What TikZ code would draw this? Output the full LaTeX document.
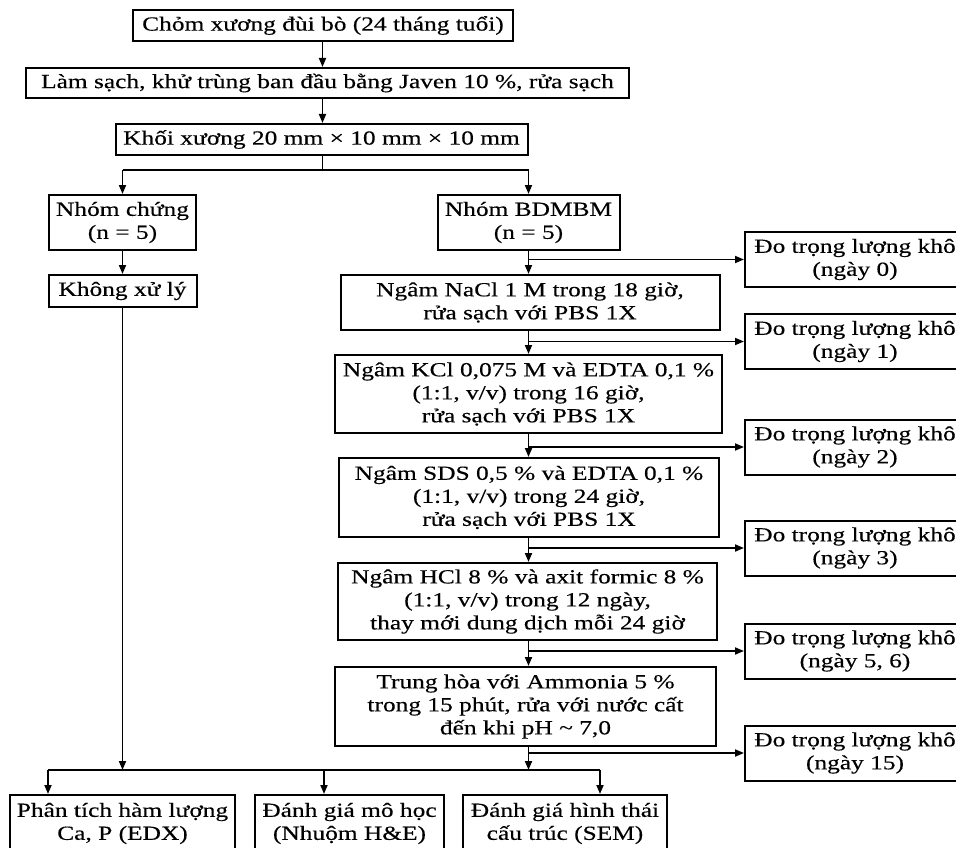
\documentclass[tikz,border=0pt]{standalone}
\usepackage{fontspec}
\setmainfont{Liberation Serif}[FakeStretch=1.27,FakeBold=0.35]
\usetikzlibrary{arrows.meta}
\begin{document}
\begin{tikzpicture}[x=1pt,y=-1pt,
  box/.style={draw, line width=2pt, inner sep=0pt, align=center,
    font=\fontsize{20}{23}\selectfont},
  conn/.style={line width=1.8pt},
  arr/.style={conn, -{Triangle[length=9pt,width=7pt]}}]
\useasboundingbox (0,0) rectangle (956,848);
% top column
\node[box, minimum width=380pt, minimum height=31pt] (n1) at (323,25.5) {Chỏm xương đùi bò (24 tháng tuổi)};
\node[box, minimum width=603pt, minimum height=30pt] (n2) at (327.5,83) {Làm sạch, khử trùng ban đầu bằng Javen 10 \%, rửa sạch};
\node[box, minimum width=412pt, minimum height=31pt] (n3) at (321.5,139.5) {Khối xương 20 mm × 10 mm × 10 mm};
% groups
\node[box, minimum width=147pt, minimum height=55pt] (chung) at (122.5,222.5) {Nhóm chứng\\(n = 5)};
\node[box, minimum width=182pt, minimum height=55pt] (bdmbm) at (528.5,222.5) {Nhóm BDMBM\\(n = 5)};
\node[box, minimum width=148pt, minimum height=32pt] (khong) at (122.5,291) {Không xử lý};
% middle column
\node[box, minimum width=379pt, minimum height=55pt] (nacl) at (530,302.5) {Ngâm NaCl 1 M trong 18 giờ,\\rửa sạch với PBS 1X};
\node[box, minimum width=387pt, minimum height=78pt] (kcl) at (528.5,394) {Ngâm KCl 0,075 M và EDTA 0,1 \%\\(1:1, v/v) trong 16 giờ,\\rửa sạch với PBS 1X};
\node[box, minimum width=380pt, minimum height=79pt] (sds) at (529,497.5) {Ngâm SDS 0,5 \% và EDTA 0,1 \%\\(1:1, v/v) trong 24 giờ,\\rửa sạch với PBS 1X};
\node[box, minimum width=379pt, minimum height=77pt] (hcl) at (527.5,601.5) {Ngâm HCl 8 \% và axit formic 8 \%\\(1:1, v/v) trong 12 ngày,\\thay mới dung dịch mỗi 24 giờ};
\node[box, minimum width=381pt, minimum height=79pt] (th) at (525.5,706.5) {Trung hòa với Ammonia 5 \%\\trong 15 phút, rửa với nước cất\\đến khi pH \textasciitilde{} 7,0};
% right column
\node[box, minimum width=220pt, minimum height=55pt] (d0) at (855,259.5) {Đo trọng lượng khô\\(ngày 0)};
\node[box, minimum width=220pt, minimum height=55pt] (d1) at (855,341.5) {Đo trọng lượng khô\\(ngày 1)};
\node[box, minimum width=220pt, minimum height=55pt] (d2) at (855,447) {Đo trọng lượng khô\\(ngày 2)};
\node[box, minimum width=220pt, minimum height=55pt] (d3) at (855,548) {Đo trọng lượng khô\\(ngày 3)};
\node[box, minimum width=220pt, minimum height=55pt] (d56) at (855,651) {Đo trọng lượng khô\\(ngày 5, 6)};
\node[box, minimum width=220pt, minimum height=55pt] (d15) at (855,753) {Đo trọng lượng khô\\(ngày 15)};
% bottom row
\node[box, minimum width=225pt, minimum height=57pt] (edx) at (122.5,823.5) {Phân tích hàm lượng\\Ca, P (EDX)};
\node[box, minimum width=189pt, minimum height=57pt] (he) at (349.5,823.5) {Đánh giá mô học\\(Nhuộm H\&E)};
\node[box, minimum width=204pt, minimum height=57pt] (sem) at (565,823.5) {Đánh giá hình thái\\cấu trúc (SEM)};
% connectors top
\coordinate (s1) at (322.5,170);
\draw[arr] (n1.south -| s1) -- (s1 |- n2.north);
\draw[arr] (n2.south -| s1) -- (s1 |- n3.north);
\draw[conn] (n3.south -| s1) -- (s1);
\draw[conn] (s1 -| chung.north) -- (s1 -| bdmbm.north);
\draw[arr] (s1 -| chung.north) -- (chung.north);
\draw[arr] (s1 -| bdmbm.north) -- (bdmbm.north);
\draw[arr] (chung.south) -- (chung.south |- khong.north);
% middle stem
\draw[arr] (bdmbm.south) -- (bdmbm.south |- nacl.north);
\draw[arr] (nacl.south -| bdmbm.south) -- (bdmbm.south |- kcl.north);
\draw[arr] (kcl.south -| bdmbm.south) -- (bdmbm.south |- sds.north);
\draw[arr] (sds.south -| bdmbm.south) -- (bdmbm.south |- hcl.north);
\draw[arr] (hcl.south -| bdmbm.south) -- (bdmbm.south |- th.north);
% branches to measurements
\draw[arr] (bdmbm.south |- d0.west) -- (d0.west);
\draw[arr] (bdmbm.south |- d1.west) -- (d1.west);
\draw[arr] (bdmbm.south |- d2.west) -- (d2.west);
\draw[arr] (bdmbm.south |- d3.west) -- (d3.west);
\draw[arr] (bdmbm.south |- d56.west) -- (d56.west);
\draw[arr] (bdmbm.south |- d15.west) -- (d15.west);
% bottom bus
\coordinate (bL) at (48,770);
\coordinate (bM) at (324,770);
\coordinate (bR) at (600,770);
\draw[conn] (bL) -- (bR);
\draw[arr] (khong.south) -- (khong.south |- bL);
\draw[arr] (th.south -| bdmbm.south) -- (bdmbm.south |- bL);
\draw[arr] (bL) -- (bL |- edx.north);
\draw[arr] (bM) -- (bM |- he.north);
\draw[arr] (bR) -- (bR |- sem.north);
\end{tikzpicture}
\end{document}
